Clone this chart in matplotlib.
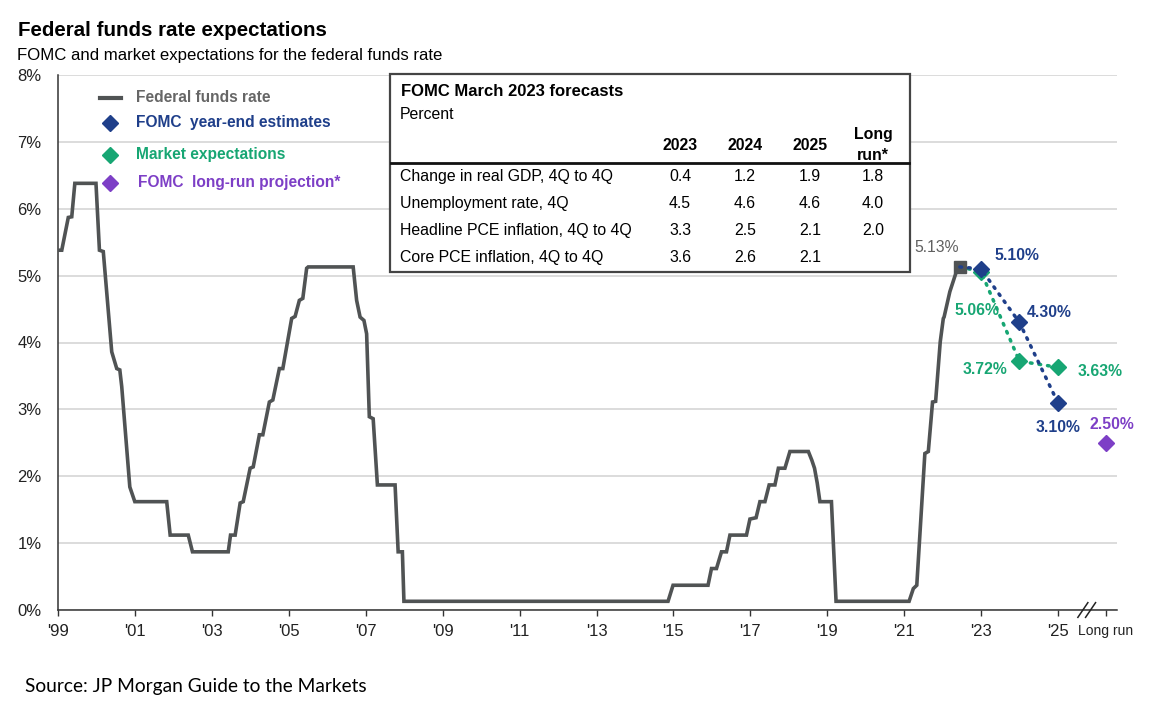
import matplotlib
matplotlib.use("Agg")
import matplotlib.pyplot as plt
from matplotlib.patches import Rectangle
from matplotlib.lines import Line2D

plt.rcParams['font.family'] = ['Liberation Sans', 'DejaVu Sans']

W, H = 1149, 706

# federal funds rate (decimal year, percent)
ffr_year = [1999.0, 1999.09, 1999.26, 1999.35, 1999.43, 1999.98, 2000.07, 2000.17,
            2000.39, 2000.52, 2000.6, 2000.65, 2000.86, 2000.99, 2001.82, 2001.91,
            2002.38, 2002.49, 2003.42, 2003.48, 2003.6, 2003.73, 2003.81, 2003.99,
            2004.07, 2004.23, 2004.32, 2004.49, 2004.58, 2004.75, 2004.84, 2005.07,
            2005.16, 2005.27, 2005.36, 2005.46, 2005.5, 2006.67, 2006.76, 2006.85,
            2006.95, 2007.02, 2007.09, 2007.19, 2007.3, 2007.76, 2007.84, 2007.95,
            2007.99, 2014.86, 2014.99, 2015.9, 2015.99, 2016.12, 2016.25, 2016.38,
            2016.47, 2016.9, 2016.99, 2017.15, 2017.25, 2017.38, 2017.49, 2017.64,
            2017.73, 2017.9, 2018.03, 2018.51, 2018.6, 2018.67, 2018.74, 2018.81,
            2019.11, 2019.23, 2021.13, 2021.24, 2021.33, 2021.54, 2021.63, 2021.74,
            2021.82, 2021.94, 2022.02, 2022.04, 2022.19, 2022.36, 2022.45]
ffr_rate = [5.38, 5.38, 5.87, 5.88, 6.38, 6.38, 5.38, 5.36,
            3.86, 3.61, 3.59, 3.34, 1.84, 1.62, 1.62, 1.12,
            1.12, 0.87, 0.87, 1.12, 1.12, 1.60, 1.62, 2.12,
            2.14, 2.62, 2.62, 3.11, 3.14, 3.61, 3.61, 4.36,
            4.39, 4.63, 4.66, 5.11, 5.13, 5.13, 4.63, 4.38,
            4.33, 4.13, 2.89, 2.86, 1.87, 1.87, 0.87, 0.87,
            0.13, 0.13, 0.37, 0.37, 0.62, 0.62, 0.87, 0.87,
            1.12, 1.12, 1.36, 1.38, 1.62, 1.62, 1.87, 1.87,
            2.12, 2.12, 2.37, 2.37, 2.24, 2.12, 1.9, 1.62,
            1.62, 0.13, 0.13, 0.32, 0.37, 2.34, 2.37, 3.11,
            3.12, 4.01, 4.36, 4.38, 4.76, 5.06, 5.13]

# projections
fomc_year = [2023, 2024, 2025]
fomc_rate = [5.10, 4.30, 3.10]
mkt_year = [2023, 2024, 2025]
mkt_rate = [5.06, 3.72, 3.63]
longrun_x = 2026.25
longrun_rate = 2.50

xtick_years = list(range(1999, 2026, 2))
xtick_labels = ["'%02d" % (y % 100) for y in xtick_years]

# FOMC table
tbl_cols = ["2023", "2024", "2025"]
tbl_rows = ["Change in real GDP, 4Q to 4Q", "Unemployment rate, 4Q",
            "Headline PCE inflation, 4Q to 4Q", "Core PCE inflation, 4Q to 4Q"]
tbl_vals = [["0.4", "1.2", "1.9", "1.8"],
            ["4.5", "4.6", "4.6", "4.0"],
            ["3.3", "2.5", "2.1", "2.0"],
            ["3.6", "2.6", "2.1", ""]]

GRAY = "#505354"
BLUE = "#1f3f8a"
GREEN = "#17a673"
PURPLE = "#7d3fc6"


def fx(px):
    return px / W


def fy(py):
    return 1 - py / H


fig = plt.figure(figsize=(W / 100, H / 100), dpi=100)
ax = fig.add_axes([fx(58.3), fy(610), fx(1116.7) - fx(58.3), fy(75) - fy(610)])

ax.set_xlim(1999, 2026.53)
ax.set_ylim(0, 8)
ax.set_yticks(range(0, 9))
ax.set_yticklabels(["%d%%" % v for v in range(0, 9)], fontsize=12, color="#222222")
ax.tick_params(axis="y", length=0, pad=12)
ax.yaxis.grid(True, color="#d9d9d9", lw=1.3)
ax.set_axisbelow(True)
ax.set_xticks(xtick_years + [longrun_x])
ax.set_xticklabels(xtick_labels + ["Long run"], fontsize=12, color="#222222")
ax.get_xticklabels()[-1].set_fontsize(10)
ax.tick_params(axis="x", direction="out", length=4, width=1, color="#333333", pad=6)
for s in ["top", "right"]:
    ax.spines[s].set_visible(False)
for s in ["left", "bottom"]:
    ax.spines[s].set_color("#333333")
    ax.spines[s].set_linewidth(1.1)

# axis break marks
for dx in (-0.1, 0.1):
    ax.plot([2025.75 + dx - 0.13, 2025.75 + dx + 0.13], [-0.11, 0.11], color="#222222",
            lw=1.1, clip_on=False, zorder=5)

ax.plot(ffr_year, ffr_rate, color=GRAY, lw=2.6, solid_joinstyle="miter", zorder=3)
ax.plot([ffr_year[-1]], [ffr_rate[-1]], marker="s", ms=8, color=GRAY, zorder=4)

ax.plot([ffr_year[-1]] + mkt_year, [ffr_rate[-1]] + mkt_rate, color=GREEN, lw=2.5,
        ls=(0, (0.5, 2.0)), dash_capstyle="round", zorder=3)
ax.plot(mkt_year, mkt_rate, ls="none", marker="D", ms=8.5, color=GREEN, zorder=4)
ax.plot([ffr_year[-1]] + fomc_year, [ffr_rate[-1]] + fomc_rate, color=BLUE, lw=2.5,
        ls=(0, (0.5, 2.0)), dash_capstyle="round", zorder=5)
ax.plot(fomc_year, fomc_rate, ls="none", marker="D", ms=8.5, color=BLUE, zorder=6)
ax.plot([longrun_x], [longrun_rate], ls="none", marker="D", ms=8.5, color=PURPLE, zorder=6)

# value labels
def lab(x, y, txt, dx, dy, color, weight="bold"):
    ax.annotate(txt, (x, y), xytext=(dx, dy), textcoords="offset pixels",
                ha="center", va="center", fontsize=11.3, color=color,
                fontweight=weight, zorder=7)

lab(ffr_year[-1], ffr_rate[-1], "%.2f%%" % ffr_rate[-1], -23, 19, "#606060", "normal")
fomc_off = [(36, 13), (30, 10), (0, -25)]
for x, y, (dx, dy) in zip(fomc_year, fomc_rate, fomc_off):
    lab(x, y, "%.2f%%" % y, dx, dy, BLUE)
mkt_off = [(-4, -39), (-34, -8), (42, -4)]
for x, y, (dx, dy) in zip(mkt_year, mkt_rate, mkt_off):
    lab(x, y, "%.2f%%" % y, dx, dy, GREEN)
lab(longrun_x, longrun_rate, "%.2f%%" % longrun_rate, 6, 18, PURPLE)

# legend
fig.add_artist(Line2D([fx(100), fx(121)], [fy(98), fy(98)], color=GRAY, lw=3))
fig.text(fx(136), fy(102), "Federal funds rate", fontsize=11.2, color="#666666",
         fontweight="bold", va="baseline")
leg = [(123, BLUE, "FOMC  year-end estimates"), (155, GREEN, "Market expectations"),
       (183, PURPLE, "FOMC  long-run projection*")]
for py, c, t in leg:
    fig.add_artist(Line2D([fx(110)], [fy(py)], marker="D", ms=8, color=c, ls="none"))
    fig.text(fx(136 if py < 180 else 138.5), fy(py + 4), t, fontsize=11.2, color=c,
             fontweight="bold", va="baseline")

# table box
fig.add_artist(Rectangle((fx(390), fy(271.5)), fx(909.5) - fx(390), fy(74) - fy(271.5),
                         transform=fig.transFigure, facecolor="white",
                         edgecolor="#444444", lw=1.6, zorder=10))
fig.text(fx(401), fy(95.5), "FOMC March 2023 forecasts", fontsize=12,
         fontweight="bold", va="baseline", zorder=11)
fig.text(fx(400), fy(119), "Percent", fontsize=11.4, va="baseline", zorder=11)
col_x = [680, 745, 810, 873]
for cx, c in zip(col_x, tbl_cols):
    fig.text(fx(cx), fy(149.5), c, fontsize=11.4, fontweight="bold", ha="center",
             va="baseline", zorder=11)
fig.text(fx(col_x[3]), fy(139), "Long", fontsize=11.4, fontweight="bold", ha="center",
         va="baseline", zorder=11)
fig.text(fx(col_x[3]), fy(160), "run*", fontsize=11.4, fontweight="bold", ha="center",
         va="baseline", zorder=11)
fig.add_artist(Line2D([fx(391), fx(909)], [fy(163), fy(163)], color="#111111", lw=2,
                      zorder=11))
row_y = [181, 208, 235, 262]
for ry, name, vals in zip(row_y, tbl_rows, tbl_vals):
    fig.text(fx(400), fy(ry), name, fontsize=11.4, va="baseline", zorder=11)
    for cx, v in zip(col_x, vals):
        fig.text(fx(cx), fy(ry), v, fontsize=11.4, ha="center", va="baseline", zorder=11)

# titles
fig.text(fx(18), fy(36), "Federal funds rate expectations", fontsize=14.8,
         fontweight="bold", va="baseline")
fig.text(fx(17), fy(60), "FOMC and market expectations for the federal funds rate",
         fontsize=12.1, va="baseline")
fig.text(fx(25), fy(686.5), "Source: JP Morgan Guide to the Markets",
         fontsize=13.8, family="Lato", va="center")

fig.savefig("out.png", dpi=100)
